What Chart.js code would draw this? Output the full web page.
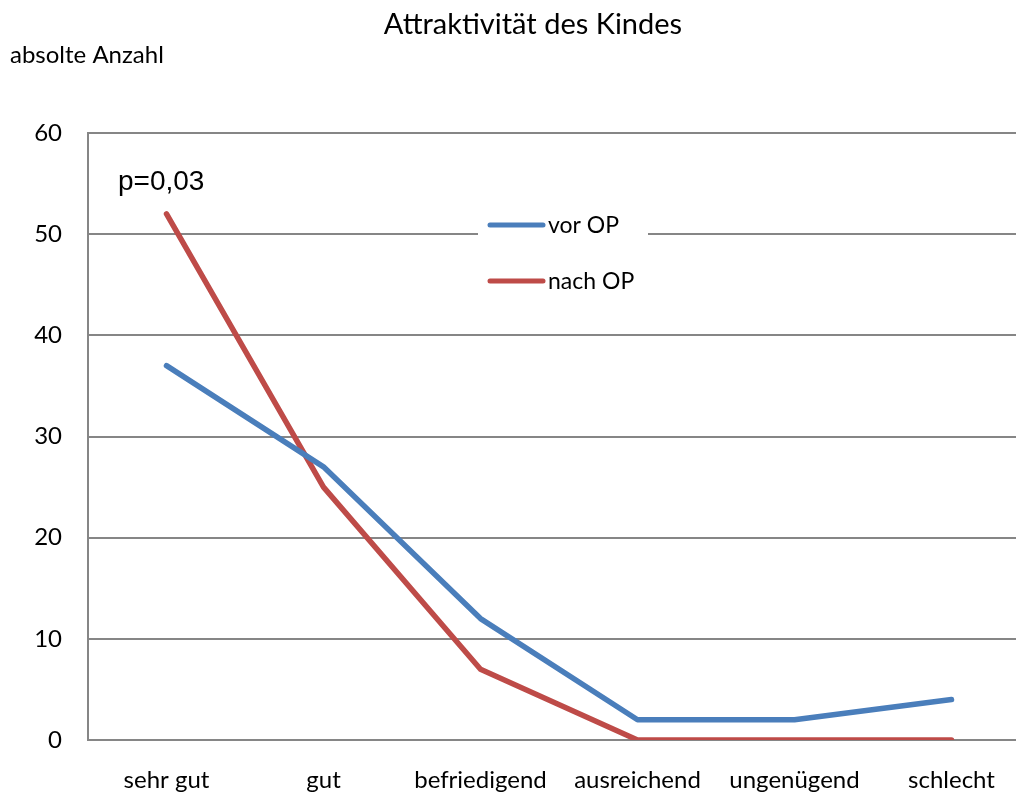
<!DOCTYPE html>
<html>
<head>
<meta charset="utf-8">
<script src="https://cdn.jsdelivr.net/npm/chart.js@4/dist/chart.umd.min.js"></script>
<style>
  html, body { margin: 0; padding: 0; background: #ffffff; overflow: hidden; }
  #wrap { width: 1030px; height: 801px; position: relative; }
</style>
</head>
<body>
<div id="wrap"><canvas id="c" width="1030" height="801"></canvas></div>
<script>
const chartTitle = "Attraktivität des Kindes";
const yAxisTitle = "absolte Anzahl";
const annotationText = "p=0,03";
const categories = ["sehr gut", "gut", "befriedigend", "ausreichend", "ungenügend", "schlecht"];
const seriesNames = ["vor OP", "nach OP"];
const vorOP = [37, 27, 12, 2, 2, 4];
const nachOP = [52, 25, 7, 0, 0, 0];
const yTicks = [0, 10, 20, 30, 40, 50, 60];

const FONT = "Lato, 'Open Sans', sans-serif";
const colors = ["#4A7EBB", "#BE4B48"];
const gridColor = "#868686";

const overlay = {
  id: "overlay",
  afterDatasetsDraw(chart) {
    const ctx = chart.ctx;
    ctx.save();
    // titles
    ctx.fillStyle = "#000";
    ctx.textBaseline = "middle";
    ctx.textAlign = "center";
    ctx.font = "29px " + FONT;
    ctx.fillText(chartTitle, 533, 25);
    ctx.textAlign = "left";
    ctx.font = "24px " + FONT;
    ctx.fillText(yAxisTitle, 10, 55);
    // annotation
    ctx.font = "28px 'Liberation Sans', Arial, sans-serif";
    ctx.textBaseline = "alphabetic";
    ctx.fillText(annotationText, 118, 190);
    // legend
    ctx.fillStyle = "#ffffff";
    ctx.fillRect(478, 205, 170, 95);
    ctx.font = "23px " + FONT;
    ctx.textBaseline = "middle";
    chart.data.datasets.forEach((ds, i) => {
      const cy = 225 + i * 56;
      ctx.strokeStyle = ds.borderColor;
      ctx.lineWidth = 5;
      ctx.lineCap = "round";
      ctx.beginPath();
      ctx.moveTo(490, cy);
      ctx.lineTo(543, cy);
      ctx.stroke();
      ctx.fillStyle = "#000";
      ctx.fillText(ds.label, 548, cy + 1);
    });
    ctx.restore();
  }
};

new Chart(document.getElementById("c"), {
  type: "line",
  data: {
    labels: categories,
    datasets: [
      { label: seriesNames[0], data: vorOP, borderColor: colors[0], backgroundColor: colors[0],
        borderWidth: 5.5, pointRadius: 0, tension: 0, borderCapStyle: "round", borderJoinStyle: "round" },
      { label: seriesNames[1], data: nachOP, borderColor: colors[1], backgroundColor: colors[1],
        borderWidth: 5.5, pointRadius: 0, tension: 0, borderCapStyle: "round", borderJoinStyle: "round" }
    ]
  },
  options: {
    responsive: false,
    animation: false,
    layout: { padding: { top: 133, right: 0, bottom: 0, left: 0 } },
    plugins: { legend: { display: false }, title: { display: false }, tooltip: { enabled: false } },
    scales: {
      x: {
        offset: true,
        grid: { display: false, drawTicks: false },
        border: { display: false },
        ticks: { color: "#000", font: { family: FONT, size: 24 }, padding: 26, maxRotation: 0, autoSkip: false },
        afterFit(scale) { scale.height = 61; }
      },
      y: {
        min: 0, max: 60,
        afterBuildTicks(scale) { scale.ticks = yTicks.map(v => ({ value: v })); },
        grid: { color: gridColor, lineWidth: 2, drawTicks: false },
        border: { display: true, color: gridColor, width: 2 },
        ticks: { color: "#000", font: { family: FONT, size: 24 }, padding: 26 },
        afterFit(scale) { scale.width = 88; }
      }
    }
  },
  plugins: [overlay]
});
</script>
</body>
</html>
